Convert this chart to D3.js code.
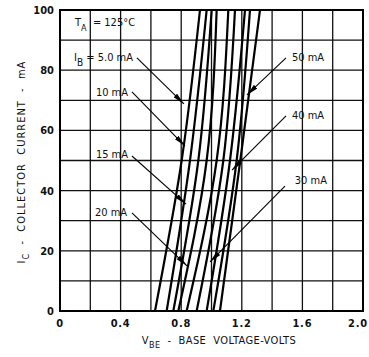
<!DOCTYPE html>
<html>
<head>
<meta charset="utf-8">
<script src="https://cdn.jsdelivr.net/npm/d3@7/dist/d3.min.js"></script>
<style>
  body { margin: 0; background: #fff; }
  text { font-family: "DejaVu Sans Condensed", "Liberation Sans Narrow", sans-serif; fill: #111; white-space: pre; }
</style>
</head>
<body>
<div id="chart"></div>
<script>
const currentPoints = [0, 50, 100];
// V_BE (volts) of each curve at those currents, left to right
const curveVbe = [
  [0.627, 0.803, 0.924],
  [0.704, 0.858, 0.968],
  [0.748, 0.913, 1.001],
  [0.781, 0.968, 1.034],
  [0.836, 1.034, 1.111],
  [0.902, 1.078, 1.155],
  [0.968, 1.122, 1.221],
  [1.012, 1.166, 1.254],
  [1.056, 1.190, 1.320]
];
const xTicks = [0, 0.4, 0.8, 1.2, 1.6, 2.0];
const yTicks = [0, 20, 40, 60, 80, 100];
// labels: text, anchor (V, mA), arrow from -> to (V, mA)
const leftLabels = [
  { t: "10 mA", v: 0.449, i: 72.8, from: [0.475, 72.8], to: [0.825, 54.8] },
  { t: "15 mA", v: 0.449, i: 52.2, from: [0.475, 51.5], to: [0.832, 35.5] },
  { t: "20 mA", v: 0.443, i: 33.0, from: [0.475, 32.6], to: [0.838, 15.0] }
];
const rightLabels = [
  { t: "50 mA", v: 1.531, i: 84.4, from: [1.492, 84.1], to: [1.234, 71.8] },
  { t: "40 mA", v: 1.531, i: 65.1, from: [1.492, 64.8], to: [1.135, 46.8] },
  { t: "30 mA", v: 1.550, i: 43.5, from: [1.485, 41.5], to: [0.990, 16.3] }
];
const ibArrow = { from: [0.508, 84.1], to: [0.818, 68.8] };

const width = 369, height = 357;
const margin = { top: 10, right: 6, bottom: 46, left: 60 };

const svg = d3.select("#chart").append("svg")
  .attr("width", width)
  .attr("height", height);

const x = d3.scaleLinear().domain([0, 2]).range([margin.left, width - margin.right]);
const y = d3.scaleLinear().domain([0, 100]).range([height - margin.bottom, margin.top]);

// grid
svg.append("g").selectAll("line")
  .data(d3.range(0.2, 2, 0.2))
  .enter().append("line")
  .attr("x1", d => x(d)).attr("x2", d => x(d))
  .attr("y1", y(0)).attr("y2", y(100))
  .attr("stroke", "#111").attr("stroke-width", 1.3);
svg.append("g").selectAll("line")
  .data(d3.range(10, 100, 10))
  .enter().append("line")
  .attr("x1", x(0)).attr("x2", x(2))
  .attr("y1", d => y(d)).attr("y2", d => y(d))
  .attr("stroke", "#111").attr("stroke-width", 1.3);

svg.append("rect")
  .attr("x", x(0)).attr("y", y(100))
  .attr("width", x(2) - x(0)).attr("height", y(0) - y(100))
  .attr("fill", "none").attr("stroke", "#000").attr("stroke-width", 2);

// tick labels
svg.append("g").selectAll("text")
  .data(yTicks)
  .enter().append("text")
  .attr("x", x(0) - 6).attr("y", d => y(d) + 4)
  .attr("text-anchor", "end")
  .attr("font-size", 11).attr("font-weight", "bold")
  .text(d => d);
svg.append("g").selectAll("text")
  .data(xTicks)
  .enter().append("text")
  .attr("x", (d, k) => k === xTicks.length - 1 ? width - 1 : x(d))
  .attr("y", y(0) + 16)
  .attr("text-anchor", (d, k) => k === xTicks.length - 1 ? "end" : "middle")
  .attr("font-size", 11).attr("font-weight", "bold")
  .attr("letter-spacing", 0.8)
  .text(d => d === 0 ? "0" : d.toFixed(1));

// curves
svg.append("clipPath").attr("id", "plot")
  .append("rect")
  .attr("x", x(0)).attr("y", y(100))
  .attr("width", x(2) - x(0)).attr("height", y(0) - y(100));

const line = d3.line()
  .x(d => x(d[0]))
  .y(d => y(d[1]))
  .curve(d3.curveNatural);

svg.append("g").attr("clip-path", "url(#plot)")
  .selectAll("path")
  .data(curveVbe)
  .enter().append("path")
  .attr("d", c => line(c.map((v, k) => [v, currentPoints[k]])))
  .attr("fill", "none")
  .attr("stroke", "#000")
  .attr("stroke-width", 2.2);

// arrows
svg.append("defs").append("marker")
  .attr("id", "head")
  .attr("viewBox", "0 0 12 5")
  .attr("refX", 12).attr("refY", 2.5)
  .attr("markerWidth", 12).attr("markerHeight", 5)
  .attr("markerUnits", "userSpaceOnUse")
  .attr("orient", "auto")
  .append("path").attr("d", "M0,0L12,2.5L0,5Z").attr("fill", "#000");

const arrows = [ibArrow].concat(leftLabels, rightLabels);
svg.append("g").selectAll("line")
  .data(arrows)
  .enter().append("line")
  .attr("x1", d => x(d.from[0])).attr("y1", d => y(d.from[1]))
  .attr("x2", d => x(d.to[0])).attr("y2", d => y(d.to[1]))
  .attr("stroke", "#000").attr("stroke-width", 1.1)
  .attr("marker-end", "url(#head)");

svg.append("g").selectAll("text")
  .data(leftLabels)
  .enter().append("text")
  .attr("x", d => x(d.v)).attr("y", d => y(d.i) + 4)
  .attr("text-anchor", "end")
  .attr("font-size", 11)
  .text(d => d.t);
svg.append("g").selectAll("text")
  .data(rightLabels)
  .enter().append("text")
  .attr("x", d => x(d.v)).attr("y", d => y(d.i) + 4)
  .attr("text-anchor", "start")
  .attr("font-size", 11)
  .text(d => d.t);

// I_B label
const ib = svg.append("text")
  .attr("x", x(0.482)).attr("y", y(84.4) + 4)
  .attr("text-anchor", "end")
  .attr("font-size", 11);
ib.append("tspan").text("I");
ib.append("tspan").attr("dy", 5).attr("font-size", 10).text("B");
ib.append("tspan").attr("dy", -5).text(" = 5.0 mA");

// T_A label
const ta = svg.append("text")
  .attr("x", 75).attr("y", 26)
  .attr("font-size", 11);
ta.append("tspan").text("T");
ta.append("tspan").attr("dy", 5).attr("font-size", 9).text("A");
ta.append("tspan").attr("dy", -5).text("  = 125°C");

// axis titles
const xt = svg.append("text")
  .attr("x", 219).attr("y", 344)
  .attr("text-anchor", "middle")
  .attr("font-size", 11)
  .attr("letter-spacing", 0.4);
xt.append("tspan").text("V");
xt.append("tspan").attr("dy", 4).attr("font-size", 9).text("BE");
xt.append("tspan").attr("dy", -4).text("  -  BASE  VOLTAGE-VOLTS");

const yt = svg.append("text")
  .attr("transform", "translate(25,162) rotate(-90)")
  .attr("text-anchor", "middle")
  .attr("font-size", 11)
  .attr("letter-spacing", 1);
yt.append("tspan").text("I");
yt.append("tspan").attr("dy", 4).attr("font-size", 9).text("C");
yt.append("tspan").attr("dy", -4).text("  -  COLLECTOR  CURRENT  -  mA");
</script>
</body>
</html>
